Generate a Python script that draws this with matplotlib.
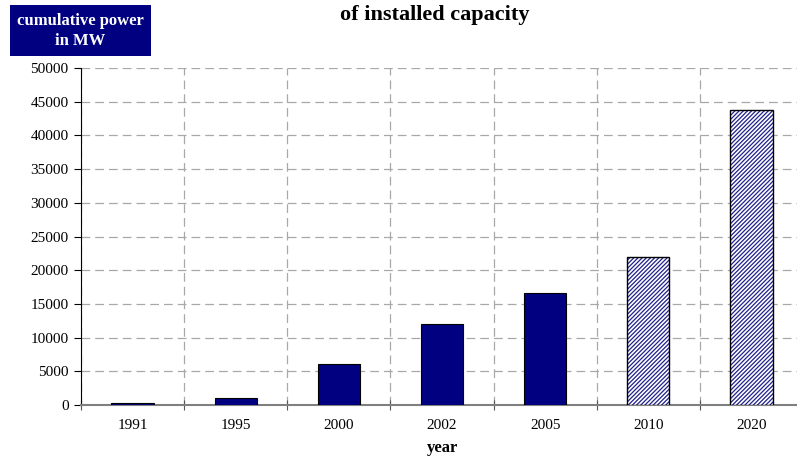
import matplotlib.pyplot as plt
from matplotlib.patches import Rectangle
from matplotlib.ticker import MultipleLocator

plt.rcParams['font.family'] = ['Liberation Serif', 'DejaVu Serif']
plt.rcParams['hatch.linewidth'] = 0.9

years = ['1991', '1995', '2000', '2002', '2005', '2010', '2020']
power_mw = [300, 1100, 6100, 12000, 16600, 22000, 43800]
# the last two years are projections
forecast = [False, False, False, False, False, True, True]

navy = '#000080'

fig = plt.figure(figsize=(7.97, 4.61), dpi=100)
ax = fig.add_axes([81 / 797, 56 / 461, 722 / 797, 337 / 461])

x = range(len(years))
for i, (v, fc) in enumerate(zip(power_mw, forecast)):
    if fc:
        ax.bar(i, v, width=0.41, color='white', edgecolor='#20208c', hatch='////////',
               linewidth=0, zorder=3)
        ax.bar(i, v, width=0.41, fill=False, edgecolor='black', linewidth=1.0, zorder=4)
    else:
        ax.bar(i, v, width=0.41, color=navy, edgecolor='black', linewidth=0.8, zorder=3)

ax.set_xlim(-0.5, len(years) - 0.5)
ax.set_ylim(0, 50000)
ax.yaxis.set_major_locator(MultipleLocator(5000))

# category labels centred, ticks and grid at the category boundaries
ax.set_xticks([i + 0.5 for i in range(-1, len(years))])
ax.set_xticklabels([])
ax.set_xticks(list(x), minor=True)
ax.set_xticklabels(years, minor=True, fontsize=11)
ax.tick_params(axis='x', which='minor', length=0, pad=10)
ax.tick_params(axis='x', which='major', direction='inout', length=7, color='#555555')
ax.tick_params(axis='y', direction='out', length=5, labelsize=11, pad=4)

ax.grid(True, which='major', color='#a8a8a8', linestyle=(0, (7, 4)), linewidth=0.9, zorder=0)
ax.set_axisbelow(True)

for s in ['top', 'right']:
    ax.spines[s].set_visible(False)
ax.spines['left'].set_color('black')
ax.spines['bottom'].set_color('#808080')
ax.spines['bottom'].set_linewidth(1.5)
ax.spines['bottom'].set_zorder(2.5)

ax.set_xlabel('year', fontsize=12, fontweight='bold', labelpad=6)

fig.text(435 / 797, 1 - 15 / 461, 'of installed capacity', ha='center', va='center',
         fontsize=16, fontweight='bold')

# navy label box in the top-left corner
fig.add_artist(Rectangle((10 / 797, 1 - 56 / 461), 141 / 797, 51 / 461,
                         transform=fig.transFigure, facecolor=navy, edgecolor='none'))
fig.text(80.5 / 797, 1 - 31 / 461, 'cumulative power\nin MW', ha='center', va='center',
         fontsize=12, fontweight='bold', color='white', linespacing=1.35)

fig.savefig('out.png', dpi=100)
